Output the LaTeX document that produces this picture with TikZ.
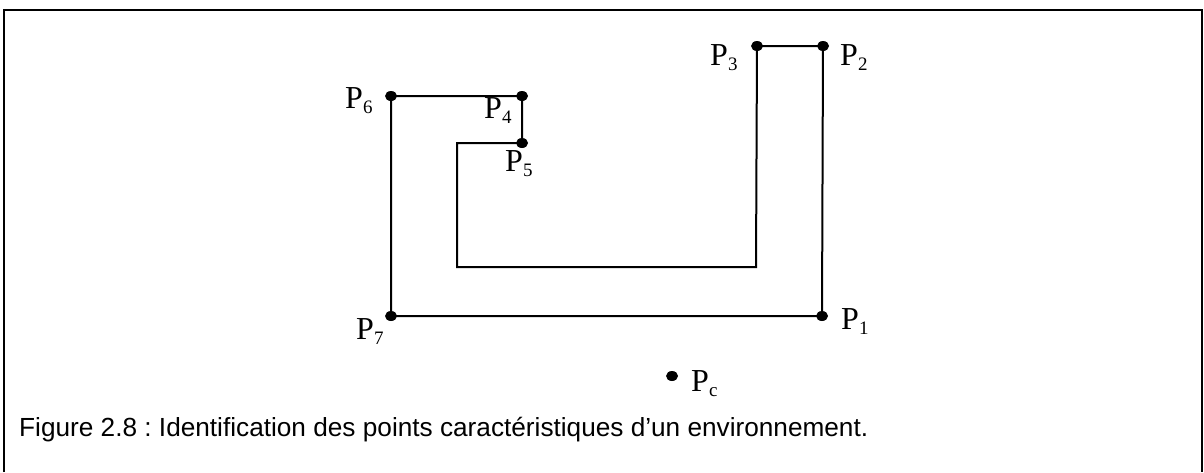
\documentclass[tikz,border=0pt]{standalone}
\usepackage{fontspec}
\setmainfont{Liberation Serif}
\newfontfamily\capfont{Liberation Sans}
\usetikzlibrary{positioning,shapes.geometric}
\newcommand{\Pn}[1]{P\raisebox{-5pt}{\fontsize{19}{22}\selectfont #1}}

\begin{document}
\begin{tikzpicture}[x=1pt,y=-1pt,
 wall/.style={line width=2pt},
 dot/.style={ellipse,fill,inner sep=0pt,minimum width=12pt,minimum height=10pt},
 lbl/.style={anchor=base west,inner sep=0pt,font=\fontsize{32}{38}\selectfont}]
\useasboundingbox (0,0) rectangle (1204,472);
\draw[line width=2.4pt] (4,472) |- (1202,10) -- (1202,472);
\coordinate (p1) at (822,316);
\coordinate (p2) at (823,46);
\coordinate (p3) at (757,46);
\coordinate (p4) at (522,96);
\coordinate (p5) at (522,143);
\coordinate (p6) at (391,96);
\coordinate (p7) at (391,316);
\coordinate (q1) at (756,267);
\coordinate (q2) at (457,267);
\coordinate (q3) at (457,143);
\draw[wall] (p1) -- (p2) -- (p3) -- (q1) -- (q2) -- (q3) -- (p5) -- (p4)
 -- (p6) -- (p7) -- cycle;
\node[dot] (d1) at (p1) {};
\node[dot] (d2) at (p2) {};
\node[dot] (d3) at (p3) {};
\node[dot] (d4) at (p4) {};
\node[dot] (d5) at (p5) {};
\node[dot] (d6) at (p6) {};
\node[dot] (d7) at (p7) {};
\node[dot] (dc) at (672,376) {};
\node[lbl] (l1) at (841,329) {\Pn{1}};
\node[lbl] (l2) at (840,65) {\Pn{2}};
\node[lbl] (l3) at (710,65) {\Pn{3}};
\node[lbl] (l4) at (484,118) {\Pn{4}};
\node[lbl] (l5) at (505,171) {\Pn{5}};
\node[lbl] (l6) at (345,108) {\Pn{6}};
\node[lbl] (l7) at (356,339) {\Pn{7}};
\node[lbl] (lc) at (691,391) {\Pn{c}};
\node[anchor=base west,inner sep=0pt,font=\capfont\fontsize{26.2}{32}\selectfont]
 (cap) at (19,436) {\frenchspacing Figure 2.8 : Identification des points caractéristiques d’un environnement.};
\end{tikzpicture}
\end{document}
